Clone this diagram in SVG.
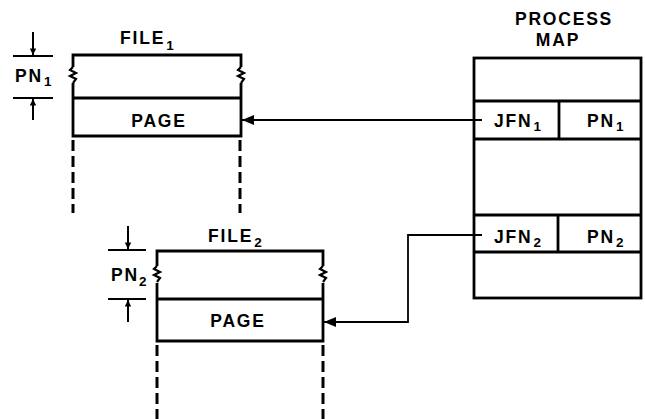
<svg xmlns="http://www.w3.org/2000/svg" width="645" height="419" viewBox="0 0 645 419">
<style>
.box{fill:none;stroke:#000;stroke-width:2.8;stroke-linejoin:miter}
.dash{fill:none;stroke:#000;stroke-width:3;stroke-dasharray:11,5}
.thin{fill:none;stroke:#000;stroke-width:2}
.zz{fill:none;stroke:#000;stroke-width:2.2;stroke-linejoin:miter}
.conn{fill:none;stroke:#000;stroke-width:1.8}
.t{font-family:"Liberation Sans",Arial,sans-serif;font-weight:bold;font-size:17.5px;letter-spacing:1.8px;fill:#000}
.s{font-size:13.5px}
</style>
<defs>
<marker id="ah" viewBox="0 0 12 10" refX="12" refY="5" markerWidth="12" markerHeight="10" markerUnits="userSpaceOnUse" orient="auto">
<path d="M0,0 L12,5 L0,10 Z" fill="#000"/>
</marker>
<marker id="dm" viewBox="0 0 8 10" refX="8" refY="4" markerWidth="9" markerHeight="8" markerUnits="userSpaceOnUse" orient="auto">
<path d="M0,0 L8,4 L0,8 Z" fill="#000"/>
</marker>
</defs>

<g id="file1">
<path class="box" d="M73,67 V55 H241 V67 M73,83 V136 H241 V83 M73,98 H241"/>
<path class="zz" d="M73,67 l-3,3 l6,3 l-6,3 l6,3 l-3,4"/>
<path class="zz" d="M241,67 l-3,3 l6,3 l-6,3 l6,3 l-3,4"/>
<path class="dash" d="M73,140 V213 M240,140 V213"/>
<text class="t" x="120" y="44">FILE<tspan class="s" dx="1" dy="6">1</tspan></text>
<text class="t" x="159" y="127" text-anchor="middle">PAGE</text>
</g>

<g id="pn1-dim">
<path class="thin" d="M13,56 H53 M13,98 H53"/>
<path class="thin" d="M33,32 V55" marker-end="url(#dm)"/>
<path class="thin" d="M33,120 V99" marker-end="url(#dm)"/>
<text class="t" x="15" y="82">PN<tspan class="s" dx="1" dy="4">1</tspan></text>
</g>

<g id="file2">
<path class="box" d="M157,266 V251 H323 V266 M157,283 V341 H323 V283 M157,299 H323"/>
<path class="zz" d="M157,266 l-3,3 l6,3 l-6,3 l6,3 l-3,4"/>
<path class="zz" d="M323,266 l-3,3 l6,3 l-6,3 l6,3 l-3,4"/>
<path class="dash" d="M157,345 V419 M323,345 V419"/>
<text class="t" x="208" y="242">FILE<tspan class="s" dx="1" dy="5">2</tspan></text>
<text class="t" x="238" y="327" text-anchor="middle">PAGE</text>
</g>

<g id="pn2-dim">
<path class="thin" d="M108,250 H146 M108,299 H146"/>
<path class="thin" d="M128,226 V249" marker-end="url(#dm)"/>
<path class="thin" d="M128,322 V300" marker-end="url(#dm)"/>
<text class="t" x="111" y="281">PN<tspan class="s" dx="0" dy="5">2</tspan></text>
</g>

<g id="process-map">
<text class="t" x="564" y="25" text-anchor="middle">PROCESS</text>
<text class="t" x="558" y="46" text-anchor="middle">MAP</text>
<rect class="box" x="474" y="58" width="167" height="240"/>
<path class="box" d="M474,101 H641 M474,139 H641 M474,215 H641 M474,252 H641 M559,101 V139 M558,215 V252"/>
<text class="t" x="494" y="127">JFN<tspan class="s" dx="1" dy="4">1</tspan></text>
<text class="t" x="587" y="127">PN<tspan class="s" dx="1" dy="4">1</tspan></text>
<text class="t" x="494" y="243">JFN<tspan class="s" dx="1" dy="4">2</tspan></text>
<text class="t" x="587" y="243">PN<tspan class="s" dx="1" dy="4">2</tspan></text>
</g>

<g id="connectors">
<path class="conn" d="M482,120 H242" marker-end="url(#ah)"/>
<path class="conn" d="M482,235 H408 V322 H324" marker-end="url(#ah)"/>
</g>
</svg>
